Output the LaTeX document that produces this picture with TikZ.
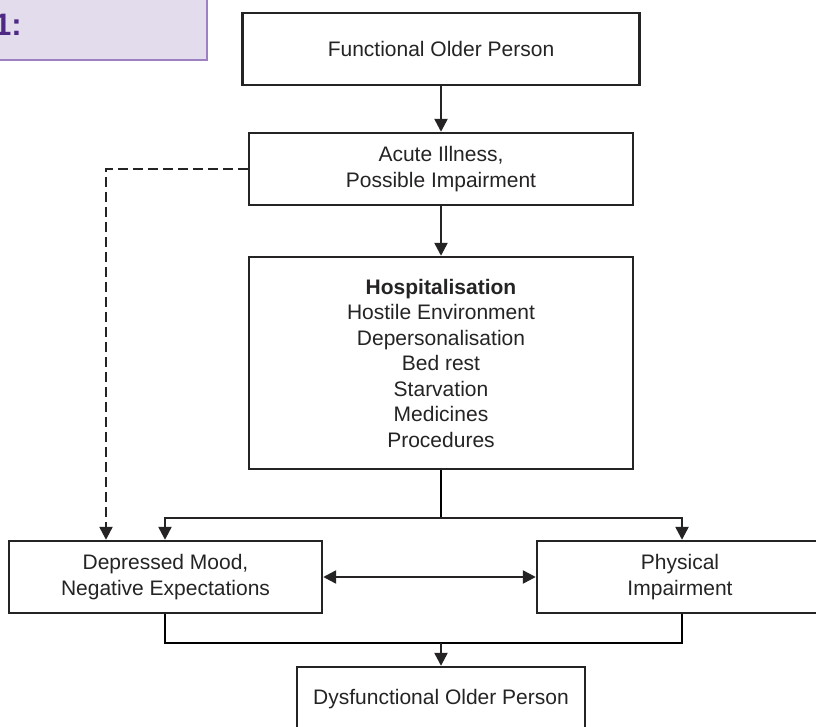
\documentclass[tikz,border=0pt]{standalone}
\usepackage{fontspec}
\setmainfont{Liberation Sans}
\usetikzlibrary{arrows.meta}
\definecolor{ink}{HTML}{262324}
\definecolor{tabfill}{HTML}{E2DCEC}
\definecolor{tabline}{HTML}{9C80C2}
\definecolor{tabtext}{HTML}{4E2A84}
\tikzset{
every picture/.style={
line width=2.4pt
}}

\begin{document}
\begin{tikzpicture}[x=1pt, y=-1pt,
box/.style = {rectangle, draw=ink, fill=white, align=center, text=ink, inner sep=0pt,
  minimum height=72pt, font=\fontsize{21}{25.5}\selectfont},
link/.style = {draw=ink, -{Triangle[length=13pt, width=13pt]}}]

\useasboundingbox (0,0) rectangle (816,727);
\clip (0,0) rectangle (816,727);

% figure tab
\draw [draw=tabline, fill=tabfill, line width=2.5pt] (-10,-10) rectangle (207,60);
\node [anchor=base east, inner sep=0pt, text=tabtext, font=\fontsize{31}{31}\selectfont\bfseries] (fig) at (23,36) {1:};

\node [box, minimum width=397pt] (func) at (441,49) {Functional Older Person};
\node [box, minimum width=384pt] (acute) at (441,169) {Acute Illness,\\Possible Impairment};
\node [box, minimum width=384pt, minimum height=212pt] (hosp) at (441,363)
  {\textbf{Hospitalisation}\\Hostile Environment\\Depersonalisation\\Bed rest\\Starvation\\Medicines\\Procedures};
\node [box, minimum width=313pt] (mood) at (165.5,577) {Depressed Mood,\\Negative Expectations};
\node [box, minimum width=286pt] (phys) at (680,577) {Physical\\Impairment};
\node [box, minimum width=288pt, minimum height=64pt] (dysf) at (441,699) {Dysfunctional Older Person};

\coordinate (split) at (441,518);
\coordinate (join) at (441,643);

\draw [link] (func) -- (acute);
\draw [link] (acute) -- (hosp);
\draw (hosp.south -| split) -- (split);
\draw [link] (split) -| ([xshift=-0.5pt]mood.north);
\draw [link] (split) -| ([xshift=2pt]phys.north);
\draw [link, dash pattern=on 10pt off 5pt] (acute.west) -| ([xshift=-59.5pt]mood.north);
\draw [draw=ink, {Triangle[length=13pt, width=13pt]}-{Triangle[length=13pt, width=13pt]}] (mood) -- (phys);
\draw ([xshift=-0.5pt]mood.south) |- (join) -| ([xshift=2pt]phys.south);
\draw [link] (join) -- (dysf);
\end{tikzpicture}
\end{document}
